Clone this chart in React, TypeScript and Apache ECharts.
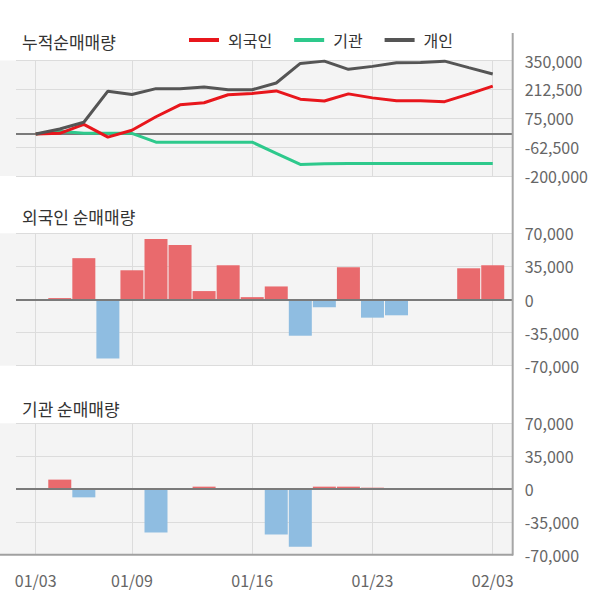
import React, { useEffect, useRef } from 'react';
import * as echarts from 'echarts';

// ---- data ----
const tickIndex = [0, 4, 9, 14, 19];
const tickLabels = ['01/03', '01/09', '01/16', '01/23', '02/03'];
const seriesNames = ['외국인', '기관', '개인'];
const panelTitles = ['누적순매매량', '외국인 순매매량', '기관 순매매량'];

const foreignCum = [0, 3000, 46000, -15000, 18000, 82000, 139000, 149000, 187000, 193000, 205000, 166000, 157000, 191000, 172000, 158000, 158000, 154000, 190000, 228000];
const instCum = [0, 13000, 4000, 3000, 3000, -39000, -39000, -39000, -39000, -39000, -92000, -145000, -142000, -141000, -140000, -140000, -140000, -140000, -140000, -140000];
const indivCum = [0, 24000, 56000, 204000, 188000, 216000, 216000, 224000, 211000, 211000, 243000, 336000, 347000, 308000, 322000, 339000, 340000, 347000, 316000, 286000];

const foreignDaily = [0, 1500, 43700, -62500, 30900, 63900, 57500, 8900, 36200, 2500, 13800, -38300, -8200, 34100, -19200, -16700, 0, 0, 33000, 36200];
const instDaily = [0, 10000, -8900, 0, 0, -46400, 0, 2500, 0, 0, -48600, -61400, 2500, 2500, 1400, 0, 0, 0, 0, 0];

const cumTicks = [-200000, -62500, 75000, 212500, 350000];

// ---- style ----
const FONT = '"Noto Sans CJK KR", "Noto Sans", sans-serif';
const RED = '#e8161c';
const GREEN = '#2ec98c';
const DARK = '#555555';
const BAR_UP = '#e96a6d';
const BAR_DOWN = '#8fbde1';
const GRID_LINE = '#dcdcdc';
const LABEL = '#666666';

export default function App() {
  const ref = useRef<HTMLDivElement>(null);

  useEffect(() => {
    const chart = echarts.init(ref.current!, null, { renderer: 'svg' });
    const xMin = -0.82;
    const xMax = 19.83;
    const gridBoxes = [
      { top: 60.5, height: 115.5 },
      { top: 233.3, height: 132.4 },
      { top: 423.3, height: 131.4 },
    ];
    const grids = gridBoxes.map((g) => ({ left: 16, right: 87.3, top: g.top, height: g.height, containLabel: false }));

    const makeX = (i: number, showLabels: boolean) => ({
      type: 'value',
      gridIndex: i,
      min: xMin,
      max: xMax,
      axisLine: { show: false },
      axisTick: { show: false, customValues: tickIndex },
      axisLabel: showLabels
        ? {
            show: true,
            customValues: tickIndex,
            formatter: (v: number) => {
              const k = tickIndex.indexOf(Math.round(v));
              return k >= 0 ? tickLabels[k] : '';
            },
            fontSize: 16,
            color: LABEL,
            margin: 17,
            fontFamily: FONT,
          }
        : { show: false },
      splitLine: { show: true, lineStyle: { color: GRID_LINE, width: 1 } },
    });

    const yLabel = {
      margin: 12,
      fontSize: 16,
      color: LABEL,
      fontFamily: FONT,
      formatter: (v: number) => v.toLocaleString('en-US'),
    };

    const yAxes = [
      {
        type: 'value',
        gridIndex: 0,
        position: 'right',
        min: -200000,
        max: 350000,
        axisLine: { show: false },
        axisTick: { show: false, customValues: cumTicks },
        axisLabel: { ...yLabel, customValues: cumTicks },
        splitLine: { show: true, lineStyle: { color: GRID_LINE } },
      },
      ...[1, 2].map((i) => ({
        type: 'value',
        gridIndex: i,
        position: 'right',
        min: -70000,
        max: 70000,
        interval: 35000,
        axisLine: { show: false },
        axisTick: { show: false },
        axisLabel: yLabel,
        splitLine: { show: true, lineStyle: { color: GRID_LINE } },
      })),
    ];

    const zeroMark = {
      silent: true,
      symbol: 'none',
      label: { show: false },
      lineStyle: { color: '#7a7a7a', width: 2, type: 'solid' },
      data: [{ yAxis: 0 }],
    };

    const barColor = (p: any) => (p.value[1] >= 0 ? BAR_UP : BAR_DOWN);

    const lineSeries = (name: string, data: number[], color: string, z: number) => ({
      name,
      type: 'line',
      xAxisIndex: 0,
      yAxisIndex: 0,
      data: data.map((v, i) => [i, v]),
      symbol: 'none',
      color,
      lineStyle: { color, width: 3 },
      z,
    });

    const option = {
      animation: false,
      textStyle: { fontFamily: FONT },
      grid: grids,
      xAxis: [makeX(0, false), makeX(1, false), makeX(2, true)],
      yAxis: yAxes,
      legend: {
        data: seriesNames,
        left: 184,
        top: 27,
        icon: 'rect',
        itemWidth: 30,
        itemHeight: 4,
        itemGap: 22,
        textStyle: { fontSize: 16, color: '#333', fontFamily: FONT, padding: [0, 0, 0, 4] },
      },
      graphic: [
        ...gridBoxes.map((g) => ({
          type: 'rect',
          z: -1,
          silent: true,
          shape: { x: 0, y: g.top, width: 513, height: g.height },
          style: { fill: '#f4f4f4' },
        })),
        {
          type: 'line',
          z: 50,
          silent: true,
          shape: { x1: 512.7, y1: 33, x2: 512.7, y2: 555.5 },
          style: { stroke: '#a6a6a6', lineWidth: 2 },
        },
        {
          type: 'line',
          z: 50,
          silent: true,
          shape: { x1: 0, y1: 554.7, x2: 513, y2: 554.7 },
          style: { stroke: '#a0a0a0', lineWidth: 2 },
        },
        ...panelTitles.map((t, i) => ({
          type: 'text',
          z: 50,
          silent: true,
          x: 22,
          y: [41, 216, 408][i],
          style: {
            text: t,
            fill: '#333',
            font: `17px ${FONT}`,
            verticalAlign: 'middle',
            align: 'left',
          },
        })),
      ],
      series: [
        {
          name: 'zero',
          type: 'line',
          xAxisIndex: 0,
          yAxisIndex: 0,
          data: [
            [xMin, 0],
            [xMax, 0],
          ],
          symbol: 'none',
          lineStyle: { color: '#7a7a7a', width: 2 },
          z: 1,
          silent: true,
        },
        lineSeries(seriesNames[1], instCum, GREEN, 2),
        lineSeries(seriesNames[0], foreignCum, RED, 3),
        lineSeries(seriesNames[2], indivCum, DARK, 4),
        {
          name: 'foreignDaily',
          type: 'bar',
          xAxisIndex: 1,
          yAxisIndex: 1,
          barWidth: 23,
          data: foreignDaily.map((v, i) => [i, v]),
          itemStyle: { color: barColor },
          markLine: zeroMark,
        },
        {
          name: 'instDaily',
          type: 'bar',
          xAxisIndex: 2,
          yAxisIndex: 2,
          barWidth: 23,
          data: instDaily.map((v, i) => [i, v]),
          itemStyle: { color: barColor },
          markLine: zeroMark,
        },
      ],
    };

    chart.setOption(option as any);
    return () => chart.dispose();
  }, []);

  return (
    <div
      ref={ref}
      style={{ position: 'fixed', left: 0, top: 0, width: 600, height: 604, background: '#fff' }}
    />
  );
}
